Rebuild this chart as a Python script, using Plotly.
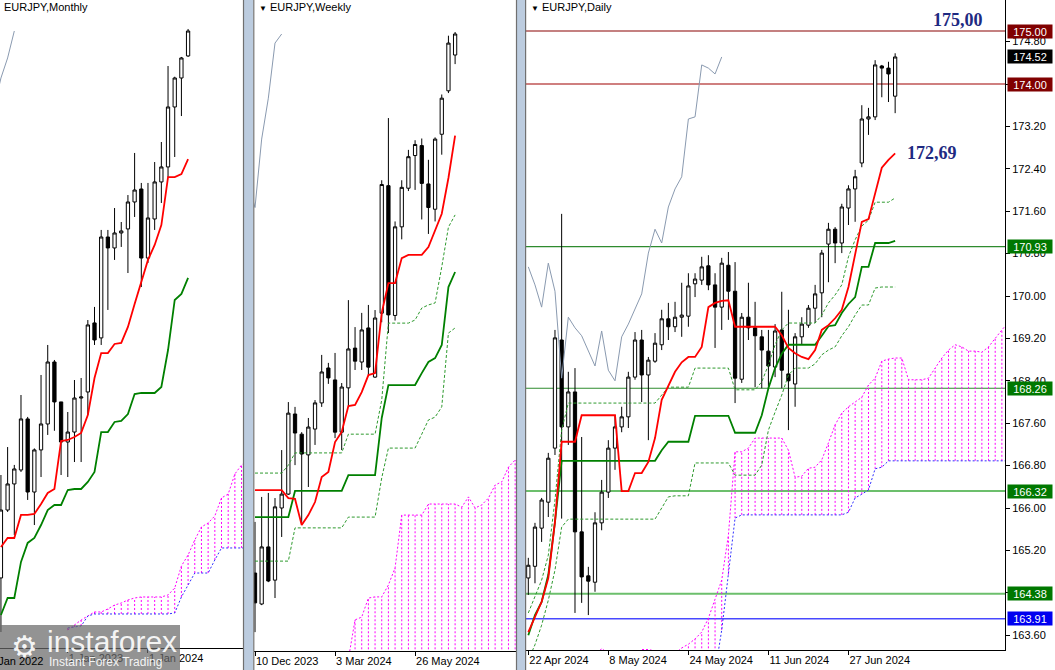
import plotly.graph_objects as go

W, H = 1055, 670
FONT = "Liberation Sans"

# ---------------- Monthly EURJPY (bar index 0 = Jul 2024) ----------------
m_idx = list(range(-28, 1))
m_open = [130.82, 136.21, 138.28, 139.39, 143.44, 137.64, 140.98, 143.04, 147.96, 144.79, 141.61, 142.40, 145.10, 145.58, 151.06,
          149.87, 157.88, 157.01, 158.20, 158.52, 160.66, 161.69, 156.21, 159.31, 162.25, 163.44, 168.20, 170.50, 172.25]
m_high = [138.99, 141.21, 139.79, 145.34, 143.60, 141.10, 146.93, 149.31, 148.12, 144.79, 143.99, 146.53, 146.69, 151.29, 152.33,
          158.44, 158.44, 160.18, 159.07, 161.21, 164.55, 162.17, 162.17, 163.83, 165.42, 171.45, 170.60, 172.17, 174.39]
m_low = [126.53, 136.06, 134.23, 139.23, 137.01, 135.02, 138.83, 142.17, 142.50, 138.99, 138.83, 140.02, 140.02, 143.75, 149.31,
         149.31, 152.09, 156.06, 157.09, 155.02, 159.47, 153.91, 155.82, 158.44, 160.58, 162.64, 164.23, 167.48, 172.17]
m_close = [136.21, 138.28, 139.47, 143.44, 137.64, 140.98, 143.04, 147.96, 144.79, 141.61, 142.40, 145.10, 145.18, 150.90, 149.71,
           157.88, 157.01, 158.20, 158.36, 160.66, 161.61, 156.21, 159.39, 162.25, 163.44, 168.20, 170.50, 172.09, 174.23]
m_tenkan = [133.28, 133.99, 133.99, 135.82, 135.82, 135.90, 136.69, 137.56, 137.88, 141.69, 141.77, 142.01, 142.33, 143.75, 146.69,
            148.67, 148.67, 149.39, 149.47, 150.74, 152.56, 154.31, 156.06, 157.25, 158.83, 162.64, 162.64, 162.88, 164.07]
m_kijun = [127.88, 129.23, 129.23, 132.09, 133.60, 133.99, 135.02, 136.21, 136.61, 136.61, 137.80, 137.88, 137.88, 138.44, 139.23,
           142.40, 142.40, 143.20, 143.28, 143.83, 145.42, 145.50, 145.50, 145.50, 145.98, 148.91, 152.88, 153.36, 154.63]
m_chikou_idx = [-29, -28, -27, -26]
m_chikou = [168.20, 170.50, 172.09, 174.23]
m_cloud_idx = list(range(-18, 10))
m_span_a = [126.69, 127.09, 127.48, 127.80, 128.12, 128.12, 128.36, 128.67, 128.83, 129.07, 129.23, 129.31, 129.31, 129.31,
            129.31, 129.47, 130.02, 131.77, 132.64, 133.83, 134.87, 135.18, 135.74, 137.17, 137.48, 139.07, 139.79, 140.18]
m_span_b = [126.85, 126.93, 127.01, 127.80, 127.96, 127.96, 127.96, 127.96, 127.96, 127.96, 127.96, 127.96, 127.96, 127.96,
            127.96, 127.96, 128.04, 129.31, 130.26, 131.21, 131.21, 131.21, 132.25, 133.20, 133.20, 133.20, 133.20, 133.20]
m_tickvals = [-18, -6]
m_ticktext = ["1 Jan 2023", "1 Jan 2024"]

# ---------------- Weekly EURJPY (bar index 0 = week of 10 Dec 2023) ----------------
w_idx = list(range(0, 31))
w_open = [155.53, 154.44, 156.45, 155.28, 157.82, 158.31, 161.13, 160.42, 159.69, 160.60, 161.52, 162.75, 162.33, 160.49, 162.05,
          163.45, 162.96, 164.16, 162.43, 164.68, 169.17, 164.60, 167.72, 169.08, 170.23, 170.58, 169.23, 168.34, 170.98, 172.51, 173.77]
w_high = [157.33, 158.21, 158.35, 158.17, 159.86, 161.55, 161.38, 160.49, 160.99, 161.62, 163.21, 162.93, 163.28, 162.22, 165.14,
          164.19, 164.69, 164.97, 164.79, 169.36, 171.55, 167.91, 169.36, 170.43, 170.77, 170.83, 170.08, 170.87, 172.38, 174.45, 174.58]
w_low = [153.45, 154.40, 155.21, 154.65, 156.80, 158.28, 159.33, 157.22, 158.56, 160.04, 161.38, 162.19, 160.28, 159.86, 161.38,
         162.68, 162.68, 162.50, 162.40, 164.36, 163.98, 164.42, 167.28, 168.98, 169.02, 167.98, 167.47, 167.91, 170.26, 172.43, 173.45]
w_close = [154.48, 156.45, 155.25, 157.86, 158.31, 161.16, 160.46, 159.72, 160.67, 161.52, 162.61, 162.40, 160.49, 162.08, 163.42,
           162.99, 164.09, 162.78, 164.51, 169.21, 164.62, 167.72, 169.11, 170.19, 170.62, 169.25, 168.40, 170.81, 172.25, 174.19, 174.51]
w_tenkan = [158.45, 158.45, 158.45, 158.45, 158.45, 158.17, 158.14, 157.22, 157.57, 158.03, 158.91, 159.09, 160.14, 160.50, 161.41,
            161.45, 161.90, 162.50, 162.57, 164.69, 165.74, 165.74, 166.62, 166.73, 166.73, 166.73, 167.01, 167.60, 168.18, 169.44, 170.93]
w_kijun = [157.50, 157.50, 157.50, 157.50, 157.50, 157.50, 158.42, 158.42, 158.42, 158.42, 158.42, 158.42, 158.42, 158.42, 158.98,
           158.98, 158.98, 158.98, 158.98, 160.99, 162.15, 162.15, 162.15, 162.15, 162.15, 162.57, 162.96, 163.10, 163.56, 165.60, 166.13]
w_dash_hi = [159.05, 159.05, 159.05, 159.05, 159.05, 159.33, 159.76, 159.76, 159.76, 159.76, 159.76, 159.76, 159.76, 159.76, 160.42,
             160.42, 160.42, 160.42, 160.42, 161.62, 164.33, 164.33, 164.33, 164.33, 164.44, 164.86, 164.97, 165.04, 166.31, 167.71, 168.14]
w_dash_lo = [155.95, 155.95, 155.95, 155.95, 155.95, 155.95, 157.12, 157.12, 157.12, 157.12, 157.12, 157.12, 157.12, 157.12, 157.50,
             157.50, 157.50, 157.50, 157.50, 158.88, 159.93, 159.93, 159.93, 159.93, 159.93, 160.42, 160.92, 161.02, 161.38, 163.98, 164.16]
w_chikou_idx = [-1, 0, 1, 2, 3, 4]
w_chikou = [169.25, 168.40, 170.81, 172.25, 174.19, 174.51]
w_cloud_idx = list(range(14, 41))
w_span_a = [152.50, 153.88, 153.98, 154.65, 154.69, 154.69, 155.11, 155.71, 157.57, 157.57, 157.57, 157.57, 157.96, 157.96,
            157.96, 157.96, 157.96, 157.85, 158.21, 157.82, 157.93, 158.17, 158.63, 158.74, 159.26, 159.51, 159.69]
w_span_b = [152.00, 152.00, 152.00, 152.00, 152.00, 152.00, 152.00, 152.00, 152.00, 152.00, 152.00, 152.00, 152.00, 152.00,
            152.00, 152.00, 152.00, 152.00, 152.00, 152.00, 152.00, 152.00, 152.00, 152.00, 152.00, 152.00, 152.00]
w_tickvals = [0, 12, 24]
w_ticktext = ["10 Dec 2023", "3 Mar 2024", "26 May 2024"]

# ---------------- Daily EURJPY (bar index 0 = 22 Apr 2024) ----------------
d_idx = list(range(0, 56))
d_open = [164.68, 164.90, 165.62, 166.11, 167.13, 169.17, 167.53, 168.19, 165.55, 164.72, 164.60, 165.72, 166.30, 167.13, 167.53,
          167.72, 168.47, 169.17, 168.51, 168.77, 169.08, 169.57, 169.42, 169.60, 169.62, 170.23, 170.30, 170.57, 170.21, 169.79,
          170.58, 170.09, 168.43, 169.60, 169.40, 169.23, 168.96, 168.66, 169.36, 168.53, 168.34, 169.23, 169.45, 169.77, 170.06,
          170.98, 171.26, 171.00, 171.66, 172.02, 172.51, 173.34, 173.38, 174.34, 174.30, 173.77]
d_high = [165.06, 165.72, 166.19, 167.04, 169.36, 171.55, 168.57, 168.64, 167.34, 164.89, 165.92, 166.53, 167.28, 167.75, 167.91,
          168.57, 169.32, 169.36, 168.85, 169.30, 169.74, 169.87, 169.89, 170.25, 170.43, 170.43, 170.74, 170.77, 170.43, 170.72,
          170.83, 170.64, 169.68, 170.25, 169.89, 169.36, 169.36, 169.47, 170.08, 169.74, 169.30, 169.60, 169.83, 170.21, 170.87,
          171.38, 171.30, 171.74, 172.09, 172.38, 173.60, 173.55, 174.45, 174.36, 174.42, 174.58]
d_low = [164.36, 164.58, 165.36, 165.83, 167.00, 165.80, 167.19, 164.02, 164.21, 163.98, 164.42, 165.58, 166.19, 166.72, 167.43,
         167.51, 168.42, 168.00, 167.28, 168.74, 168.98, 169.17, 169.32, 169.23, 169.42, 169.98, 170.21, 170.11, 169.02, 169.36,
         169.55, 167.98, 168.36, 169.17, 168.28, 168.26, 168.26, 168.47, 168.26, 167.47, 167.91, 169.08, 169.40, 169.49, 169.60,
         170.26, 170.62, 170.81, 171.34, 171.40, 172.43, 173.04, 173.32, 173.75, 173.66, 173.45]
d_close = [164.92, 165.64, 166.15, 166.94, 169.21, 167.53, 168.19, 165.55, 164.70, 164.62, 165.72, 166.30, 167.13, 167.53, 167.72,
           168.47, 169.17, 168.51, 168.79, 169.11, 169.57, 169.42, 169.60, 169.64, 170.19, 170.32, 170.55, 170.21, 169.79, 170.62,
           170.09, 168.45, 169.60, 169.40, 169.25, 168.98, 168.68, 169.34, 168.60, 168.40, 169.23, 169.47, 169.77, 170.04, 170.81,
           171.26, 171.00, 171.68, 172.02, 172.25, 173.34, 173.38, 174.36, 174.30, 174.19, 174.51]
d_tenkan = [163.66, 163.94, 164.23, 164.68, 165.74, 167.25, 167.25, 167.25, 167.75, 167.75, 167.75, 167.75, 167.75, 167.75, 166.32,
            166.32, 166.66, 166.66, 166.87, 167.32, 168.04, 168.32, 168.57, 168.75, 168.85, 168.85, 169.04, 169.79, 169.87, 169.91,
            169.92, 169.42, 169.42, 169.42, 169.42, 169.42, 169.42, 169.42, 169.26, 169.02, 168.92, 168.85, 168.81, 168.98, 169.36,
            169.45, 169.58, 169.74, 170.17, 170.81, 171.40, 171.45, 171.96, 172.42, 172.57, 172.69]
d_kijun = [163.60, 163.98, 164.23, 164.74, 165.74, 166.89, 166.89, 166.89, 166.89, 166.89, 166.89, 166.89, 166.89, 166.89, 166.89,
           166.89, 166.89, 166.89, 166.89, 166.89, 167.09, 167.25, 167.25, 167.25, 167.25, 167.74, 167.74, 167.74, 167.74, 167.74,
           167.74, 167.42, 167.42, 167.42, 167.42, 167.75, 168.26, 168.64, 168.91, 169.08, 169.08, 169.08, 169.08, 169.08, 169.25,
           169.43, 169.45, 169.68, 169.85, 169.98, 170.55, 170.55, 171.00, 171.00, 171.00, 171.04]
d_dash_hi = [164.02, 164.32, 164.64, 165.11, 166.15, 167.47, 167.98, 167.98, 167.98, 167.98, 167.98, 167.98, 167.98, 167.98, 167.98,
             167.98, 167.98, 167.98, 167.98, 167.98, 168.13, 168.28, 168.28, 168.28, 168.28, 168.64, 168.64, 168.64, 168.64, 168.64,
             168.64, 168.23, 168.23, 168.23, 168.23, 168.38, 168.70, 169.08, 169.36, 169.49, 169.49, 169.49, 169.49, 169.49, 169.64,
             169.87, 170.02, 170.21, 170.74, 171.06, 171.32, 171.43, 171.77, 171.77, 171.77, 171.85]
d_dash_lo = [163.13, 163.42, 163.79, 164.26, 164.83, 165.64, 165.79, 165.79, 165.79, 165.79, 165.79, 165.79, 165.79, 165.79, 165.79,
             165.79, 165.79, 165.79, 165.79, 165.79, 166.00, 166.21, 166.23, 166.23, 166.23, 166.85, 166.85, 166.85, 166.85, 166.85,
             166.85, 166.62, 166.62, 166.62, 166.62, 166.81, 167.47, 167.81, 168.13, 168.51, 168.64, 168.64, 168.64, 168.72, 168.89,
             168.98, 169.04, 169.25, 169.42, 169.64, 169.83, 169.83, 170.15, 170.17, 170.17, 170.17]
d_chikou_idx = list(range(0, 30))
d_chikou = [170.55, 170.21, 169.79, 170.62, 170.09, 168.45, 169.60, 169.40, 169.25, 168.98, 168.68, 169.34, 168.60, 168.40, 169.23,
            169.47, 169.77, 170.04, 170.81, 171.26, 171.00, 171.68, 172.02, 172.25, 173.34, 173.38, 174.36, 174.30, 174.19, 174.51]
d_cloud_idx = list(range(10, 73))
d_span_a = [163.20, 163.35, 163.25, 163.20, 163.20, 163.20, 163.20, 163.33, 163.33, 163.30, 163.20, 163.25,
            163.25, 163.36, 163.43, 163.53, 163.66, 163.92, 164.26, 164.64, 165.49, 167.06, 167.06, 167.13, 167.32, 167.32,
            167.32, 167.32, 167.32, 167.09, 166.58, 166.60, 166.75, 166.77, 166.91, 167.23, 167.57, 167.79, 167.91, 168.00,
            168.09, 168.32, 168.45, 168.77, 168.81, 168.83, 168.83, 168.42, 168.42, 168.42, 168.45, 168.64, 168.83, 168.98,
            169.08, 169.04, 168.96, 168.96, 168.94, 169.04, 169.21, 169.36, 169.51]
d_span_b = [162.90, 162.90, 162.90, 162.90, 162.90, 162.90, 162.90, 162.90, 162.90, 162.90, 162.90, 162.90,
            162.90, 162.90, 162.90, 162.90, 162.90, 162.90, 162.90, 163.70, 164.74, 165.81, 165.87, 165.87, 165.87, 165.87,
            165.87, 165.87, 165.87, 165.87, 165.87, 165.87, 165.87, 165.87, 165.87, 165.87, 165.87, 165.87, 165.92, 166.19,
            166.26, 166.34, 166.74, 166.77, 166.89, 166.89, 166.89, 166.89, 166.89, 166.89, 166.89, 166.89, 166.89, 166.89,
            166.89, 166.89, 166.89, 166.89, 166.89, 166.89, 166.89, 166.89, 166.89]
d_tickvals = [0, 12, 24, 36, 48]
d_ticktext = ["22 Apr 2024", "8 May 2024", "24 May 2024", "11 Jun 2024", "27 Jun 2024"]
d_price_ticks = [163.6, 164.4, 165.2, 166.0, 166.8, 167.6, 168.4, 169.2, 170.0, 170.8, 171.6, 172.4, 173.2, 174.0, 174.8]

levels = [175.00, 174.00, 170.93, 168.26, 166.32, 164.38, 163.91]
last_price = 174.52
callouts = ["175,00", "172,69"]
callout_prices = [175.00, 172.69]

# ---------------- styling ----------------
level_line_colors = ["#C48080", "#A00000", "#2E8B2E", "#2E8B2E", "#6CBF6C", "#6CBF6C", "#4848FF"]
level_line_widths = [2, 1.2, 1.2, 1.2, 2, 2, 1.5]
level_box_colors = ["#800000", "#800000", "#007800", "#007800", "#007800", "#007800", "#0000F0"]

fig = go.Figure()


def hatch(xs, lo, hi):
    hx, hy = [], []
    for x, a, b in zip(xs, lo, hi):
        hx += [x, x, None]
        hy += [a, b, None]
    return hx, hy


def add_panel(xa, ya, x, o, h, l, c, tk, kj, dhi, dlo, chx, ch, cx, ca, cb, lw=1.8):
    fig.add_trace(go.Candlestick(
        x=x, open=o, high=h, low=l, close=c, xaxis=xa, yaxis=ya,
        increasing=dict(line=dict(color="black", width=1), fillcolor="white"),
        decreasing=dict(line=dict(color="black", width=1), fillcolor="black"),
        whiskerwidth=0, hoverinfo="skip"))
    hx, hy = hatch(cx, cb, ca)
    fig.add_trace(go.Scatter(x=hx, y=hy, mode="lines", xaxis=xa, yaxis=ya,
                             line=dict(color="#FF00FF", width=1, dash="2px,2px"), hoverinfo="skip"))
    fig.add_trace(go.Scatter(x=cx, y=ca, mode="lines", xaxis=xa, yaxis=ya,
                             line=dict(color="#FF00FF", width=1, dash="2px,2px"), hoverinfo="skip"))
    fig.add_trace(go.Scatter(x=cx, y=cb, mode="lines", xaxis=xa, yaxis=ya,
                             line=dict(color="#3030FF", width=1, dash="2px,2px"), hoverinfo="skip"))
    if dhi is not None:
        for arr in (dhi, dlo):
            fig.add_trace(go.Scatter(x=x, y=arr, mode="lines", xaxis=xa, yaxis=ya,
                                     line=dict(color="#2E9A2E", width=1, dash="3px,2px"), hoverinfo="skip"))
    fig.add_trace(go.Scatter(x=chx, y=ch, mode="lines", xaxis=xa, yaxis=ya,
                             line=dict(color="#8A9AB0", width=1), hoverinfo="skip"))
    fig.add_trace(go.Scatter(x=x, y=kj, mode="lines", xaxis=xa, yaxis=ya,
                             line=dict(color="#008000", width=lw), hoverinfo="skip"))
    fig.add_trace(go.Scatter(x=x, y=tk, mode="lines", xaxis=xa, yaxis=ya,
                             line=dict(color="#FF0000", width=lw), hoverinfo="skip"))


add_panel("x", "y", m_idx, m_open, m_high, m_low, m_close, m_tenkan, m_kijun, None, None,
          m_chikou_idx, m_chikou, m_cloud_idx, m_span_a, m_span_b)
add_panel("x2", "y2", w_idx, w_open, w_high, w_low, w_close, w_tenkan, w_kijun, w_dash_hi, w_dash_lo,
          w_chikou_idx, w_chikou, w_cloud_idx, w_span_a, w_span_b)
add_panel("x3", "y3", d_idx, d_open, d_high, d_low, d_close, d_tenkan, d_kijun, d_dash_hi, d_dash_lo,
          d_chikou_idx, d_chikou, d_cloud_idx, d_span_a, d_span_b)

xcommon = dict(showgrid=False, zeroline=False, showline=True, linecolor="black", linewidth=1,
               ticks="outside", ticklen=4, tickcolor="black", tickfont=dict(family=FONT, size=11, color="black"),
               ticklabelposition="outside right", rangeslider=dict(visible=False), fixedrange=True)
yhidden = dict(visible=False, showgrid=False, zeroline=False, fixedrange=True)

fig.update_layout(
    template="none", width=W, height=H, margin=dict(l=0, r=0, t=0, b=0),
    paper_bgcolor="white", plot_bgcolor="white", showlegend=False, hovermode=False,
    font=dict(family=FONT, size=11, color="black"),
    xaxis=dict(domain=[0, 243.5 / W], range=[-28.14, 8.29], anchor="y",
               tickvals=m_tickvals, ticktext=m_ticktext, **xcommon),
    yaxis=dict(domain=[22 / H, 1], range=[125.26, 176.69], anchor="x", **yhidden),
    xaxis2=dict(domain=[254 / W, 516 / W], range=[-0.15, 39.13], anchor="y2",
                tickvals=w_tickvals, ticktext=w_ticktext, **xcommon),
    yaxis2=dict(domain=[19 / H, 1], range=[152.785, 175.707], anchor="x2", **yhidden),
    xaxis3=dict(domain=[526 / W, 1005 / W], range=[-0.345, 71.47], anchor="y3",
                tickvals=d_tickvals, ticktext=d_ticktext, **xcommon),
    yaxis3=dict(domain=[20 / H, 1], range=[163.321, 175.585], anchor="x3", side="right",
                showgrid=False, zeroline=False, showline=True, linecolor="black", linewidth=1,
                ticks="outside", ticklen=4, tickcolor="black", tickvals=d_price_ticks,
                tickformat=".2f", tickfont=dict(family=FONT, size=11, color="black"), fixedrange=True),
)

shapes = []
for p, col, lw in zip(levels, level_line_colors, level_line_widths):
    shapes.append(dict(type="line", xref="x3 domain", x0=0, x1=1, yref="y3", y0=p, y1=p,
                       line=dict(color=col, width=lw), layer="below"))
# window frames between the three charts
for x0, x1 in [(243.5, 253), (516.5, 525)]:
    shapes.append(dict(type="rect", xref="paper", yref="paper", x0=x0 / W, x1=x1 / W, y0=0, y1=1,
                       fillcolor="#BCCCDF", line=dict(width=0), layer="above"))
for xl in [243.5, 253.8, 516.5, 525.6]:
    shapes.append(dict(type="line", xref="paper", yref="paper", x0=xl / W, x1=xl / W, y0=0, y1=1,
                       line=dict(color="#707070", width=1.2), layer="above"))
# watermark box
shapes.append(dict(type="rect", xref="paper", yref="paper", x0=0, x1=180 / W, y0=0, y1=45 / H,
                   fillcolor="rgba(105,105,105,0.72)", line=dict(width=0), layer="above"))
fig.update_layout(shapes=shapes)

ann = []
for p, col in zip(levels, level_box_colors):
    ann.append(dict(xref="paper", yref="y3", x=1007 / W, y=p, xanchor="left", yanchor="middle",
                    text=f"{p:.2f}", showarrow=False, bgcolor=col, width=44, height=13, borderpad=0,
                    font=dict(family=FONT, size=11, color="white")))
ann.append(dict(xref="paper", yref="y3", x=1007 / W, y=last_price, xanchor="left", yanchor="middle",
                text=f"{last_price:.2f}", showarrow=False, bgcolor="black", width=44, height=13, borderpad=0,
                font=dict(family=FONT, size=11, color="white")))
for txt, p, xc in zip(callouts, callout_prices, [958, 932]):
    ann.append(dict(xref="paper", yref="y3", x=xc / W, y=p, yshift=11 if p > 174.9 else 0,
                    xanchor="center", yanchor="middle", text=f"<b>{txt}</b>", showarrow=False,
                    font=dict(family="Liberation Serif", size=18, color="#1E2A82")))
ann.append(dict(xref="paper", yref="paper", x=2 / W, y=1 - 7 / H, xanchor="left", yanchor="middle",
                text="EURJPY,Monthly", showarrow=False, font=dict(family=FONT, size=11, color="black")))
ann.append(dict(xref="paper", yref="paper", x=257 / W, y=1 - 7 / H, xanchor="left", yanchor="middle",
                text="<span style='font-size:8px'>▼</span> EURJPY,Weekly", showarrow=False,
                font=dict(family=FONT, size=11, color="black")))
ann.append(dict(xref="paper", yref="paper", x=529 / W, y=1 - 7 / H, xanchor="left", yanchor="middle",
                text="<span style='font-size:8px'>▼</span> EURJPY,Daily", showarrow=False,
                font=dict(family=FONT, size=11, color="black")))
ann.append(dict(xref="paper", yref="paper", x=-13 / W, y=1 - 661 / H, xanchor="left", yanchor="middle",
                text="1 Jan 2022", showarrow=False, font=dict(family=FONT, size=11, color="black")))
ann.append(dict(xref="paper", yref="paper", x=24 / W, y=1 - 646 / H, xanchor="center", yanchor="middle",
                text="⚙", showarrow=False, font=dict(family="DejaVu Sans", size=30, color="rgba(255,255,255,0.92)")))
ann.append(dict(xref="paper", yref="paper", x=45 / W, y=1 - 641 / H, xanchor="left", yanchor="middle",
                text="instaforex", showarrow=False, font=dict(family=FONT, size=30, color="rgba(255,255,255,0.92)")))
ann.append(dict(xref="paper", yref="paper", x=47 / W, y=1 - 662 / H, xanchor="left", yanchor="middle",
                text="Instant Forex Trading", showarrow=False, font=dict(family=FONT, size=12, color="rgba(255,255,255,0.92)")))
fig.update_layout(annotations=ann)

fig.write_html("out.html", include_plotlyjs=True, config={"staticPlot": True},
               post_script="document.body.style.margin='0';document.body.style.overflow='hidden';")
